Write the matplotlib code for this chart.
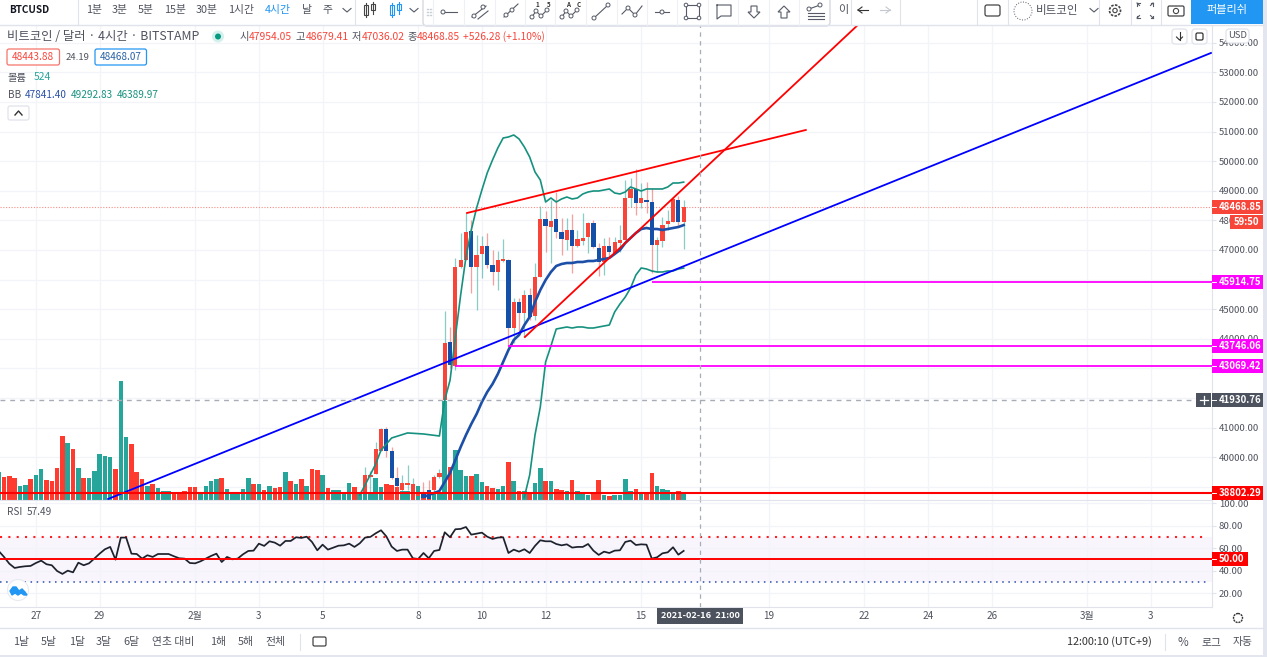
import matplotlib
matplotlib.use("Agg")
import matplotlib.pyplot as plt
from matplotlib.patches import Rectangle, Circle, FancyBboxPatch, Polygon

plt.rcParams['font.family'] = ['Noto Sans CJK KR', 'DejaVu Sans']

# ---------- data ----------
volume = [83,67,70,65,41,43,63,74,92,59,57,94,192,171,153,96,66,66,87,136,
          131,129,92,356,188,166,83,63,41,48,36,26,26,22,22,26,37,37,21,41,
          57,61,66,31,22,22,31,66,48,46,28,40,34,37,83,55,48,61,40,92,
          88,74,35,30,30,21,51,39,19,60,21,66,39,47,44,38,27,27,45,40,
          24,27,22,22,297,97,149,89,71,71,77,54,41,35,31,42,114,55,27,27,
          22,49,95,55,57,32,29,25,58,27,19,15,19,59,15,11,15,15,62,27,
          31,19,19,80,40,31,29,19,25,19]
volume_dir = (
    "g r r r g g r g g r "  "r r r g r g r g g g "  "g g r g g r r r g r "
    "g g g r r r r r g g "  "g g r g g g g g r g "  "r g r r g r g r g r "
    "r g r g g g g "
    "r g g g g g r r r g g r g r r g g "
    "g r g g g r g g r r g g r g r g r g g r g r r g r g g g "
    "r r g r g g g g r g r r g g g g r g"
).split()

bar0 = 69
candle_open = [38825,39332,39433,40210,40953,40210,39298,38893,39062,38825,38690,38760,38893,38893,39332,
               41933,43892,43082,46426,46662,47642,46426,46865,47135,46493,46257,46628,46662,44365,45243,
               44872,45480,44770,46088,48047,47777,48047,47608,47338,47676,47135,47304,47439,47912,47068,
               46595,47135,46899,47236,47338,48757,49061,48588,48689,48621,47169,47304,47878,47946,48689,47954.05]
candle_high = [39670,39535,40514,40990,41020,40345,39670,39400,39737,39300,39000,39163,39230,39400,39600,
               44939,44399,46730,47574,48250,48013,47507,47473,47574,46990,46966,47372,46700,45379,45379,
               45649,45716,46561,48486,48317,48700,48959,48081,48081,48216,47676,48250,47950,48013,47236,
               47405,47439,47439,47845,49365,49432,49736,49263,49297,49094,47439,48115,48351,48790,48824,48679.41]
candle_low  = [38791,38791,39433,40210,40007,39264,38656,38800,38893,38790,38620,38590,38590,38790,39300,
               41900,43000,42946,46400,46662,45547,44973,46054,46400,45818,45649,46600,43791,43858,44230,
               44061,44635,44635,46088,46932,46561,47405,46831,47000,46223,47101,47169,46899,47068,46122,
               46155,46730,46899,46932,47338,48453,48182,48419,48250,46223,46257,47101,47676,47946,47777,47036.02]
candle_close= [39400,39400,40278,40953,40210,39298,39028,39129,39129,39095,38760,38620,38600,39332,39467,
               43858,43115,46426,46662,47608,46426,46831,47135,46493,46257,46662,46696,44365,45243,44872,
               45480,44737,46088,48047,47811,47980,47608,47372,47676,47135,47372,47405,47912,47101,46595,
               47135,46932,47270,47338,48757,49061,48588,48757,48621,47169,47338,47845,47980,48723,47946,48468.85]

bb_upper_x = [68,69,71,72,74,77,80,83,84,85,86,87,88,89,90,91,92,93,94,95,96,97,98,99,100,101,102,103,104,105,
              106,107,108,109,110,111,112,113,114,115,116,117,118,119,120,121,122,123,124,125,126,127,128,129]
bb_upper = [38724,39062,39770,40240,40650,40820,40785,40717,41930,42600,44060,45480,46764,47676,48419,49027,49600,50040,50445,50783,
            50817,50885,50750,50480,50140,49635,49365,48621,48757,48621,48723,48790,48723,48757,48892,48959,48993,48993,49027,49061,
            48925,48892,48959,49128,49061,48993,49061,49061,49061,49061,49128,49263,49263,49292.83]
bb_lower_x = list(range(99, 130))
bb_lower = [38656,39400,40751,41697,43217,43757,44331,44365,44399,44365,44399,44399,44365,44365,44399,44433,44466,
            44906,45176,45412,45716,46155,46392,46358,46291,46257,46257,46291,46291,46358,46389.97]
bb_mid_x = list(range(80, 130))
bb_mid = [38656,38724,38791,38859,39163,39467,39906,40345,40751,41122,41460,41865,42203,42473,42811,43217,43622,43960,44129,44466,
          44737,45243,45649,45987,46257,46460,46527,46561,46561,46595,46595,46628,46628,46662,46696,46730,46865,47000,47236,47405,
          47574,47709,47743,47709,47709,47676,47709,47743,47777,47841.40]

rsi = [57.4,52.1,46.1,42.3,43.2,43.8,44.1,46.7,48.8,45.6,44.7,39.6,37,39.9,38.4,47,44.7,46.4,50.6,55,
       58.9,61,49.7,69.3,69.3,55,54.7,50.6,53.6,52.1,54.7,54.7,54.7,52.7,50.9,50.6,46.7,46.4,48.2,50.6,
       53,55,47.6,52.1,50,50.6,54.4,57.4,57.7,63.9,61.9,66,64.8,62.1,66.3,66.3,69.6,69,70.1,65.4,
       58,63,58.6,60.4,62.1,62.4,63.9,
       61,64.2,69.3,69.9,73.1,75.8,70.4,61.3,57.4,58.6,58.6,50.9,50.3,55.6,50.9,57.4,58.3,74,69.6,76.7,77,78.7,71.9,72.8,
       73.7,70.1,68.1,69.3,69.6,55.6,58.6,56.8,58.9,55.6,61.9,66.9,66,66,63.6,62.4,63.3,60.4,61,61,63.6,57.7,53.9,56.8,55.6,
       57.7,58,65.4,66.6,62.7,63.3,63,50.6,51.8,55.3,56.2,60.7,54.1,57.49]

trend_blue_x = [20.6, 228.3];  trend_blue_y = [38589, 53655]
trend_red_x = [99.1, 161.8];   trend_red_y = [44061, 54600]
wedge_red_x = [88.2, 152.0];   wedge_red_y = [48250, 51054]
levels_magenta = [45914.75, 43746.06, 43069.42]
levels_start = [123, 96, 86]
level_red = 38802.29
last_price = 48468.85
cross_price = 41930.76
cross_bar = 132

price_ticks = list(range(39000, 55000, 1000))
hidden_price_labels = [39000, 42000, 43000, 46000]   # covered by price tags in the reference
rsi_ticks = [20, 40, 60, 80, 100]
date_pos = [7, 19, 37, 49, 61, 79, 91, 103, 121, 145, 163, 175, 187, 205, 217]
date_labels = ['27', '29', '2월', '3', '5', '8', '10', '12', '15', '19', '22', '24', '26', '3월', '3']
periods = ['1분', '3분', '5분', '15분', '30분', '1시간', '4시간', '날', '주']
ranges = ['1날', '5날', '1달', '3달', '6달', '연초 대비', '1해', '5해', '전체']

# ---------- styles ----------
W, H = 1267, 657
RED = '#f7453a'; BLUE = '#1450a8'; VTEAL = '#26a69a'; VRED = '#ff3b30'
BBT = '#16917f'; GRID = '#f2f4fa'; TXT = '#50535e'; BORDER = '#e0e3eb'; CROSS = '#a8acb6'

def box(l, t, r, b):
    return [l / W, 1 - b / H, (r - l) / W, (b - t) / H]

fig = plt.figure(figsize=(W / 100, H / 100), dpi=100, facecolor='white')
XL = (0.245, 228.5)
YL = (38572, 54600)

ax_grid = fig.add_axes(box(0, 25, 1212, 499.5), zorder=0)
ax_vol = fig.add_axes(box(0, 25, 1212, 499.5), zorder=1)
ax = fig.add_axes(box(0, 25, 1212, 499.5), zorder=2)
ax_r = fig.add_axes(box(0, 500, 1212, 607), zorder=2)

# grid pane
ax_grid.set_xlim(*XL); ax_grid.set_ylim(*YL)
for t in date_pos:
    ax_grid.axvline(t, color=GRID, lw=0.9)
for p in price_ticks:
    ax_grid.axhline(p, color=GRID, lw=0.9)
ax_grid.set_xticks([]); ax_grid.set_yticks([])
for s in ax_grid.spines.values():
    s.set_visible(False)

# volume
ax_vol.patch.set_alpha(0)
ax_vol.set_xlim(*XL)
ax_vol.set_ylim(0, 474.5 * 3)
ax_vol.bar(range(len(volume)), volume, width=0.86,
           color=[VTEAL if d == 'g' else VRED for d in volume_dir], linewidth=0)
ax_vol.axis('off')

# price pane
ax.patch.set_alpha(0)
cx = [bar0 + k for k in range(len(candle_open))]
for x, o, h, l, c in zip(cx, candle_open, candle_high, candle_low, candle_close):
    up = c >= o
    ax.vlines(x, l, h, color=VTEAL if up else '#ef5350', alpha=0.55, lw=0.9, zorder=2)
    ax.bar(x, abs(c - o), bottom=min(o, c), width=0.8, color=RED if up else BLUE,
           linewidth=0, zorder=3)
ax.plot(bb_upper_x, bb_upper, color=BBT, lw=1.2, zorder=4)
ax.plot(bb_lower_x, bb_lower, color=BBT, lw=1.2, zorder=4)
ax.plot(bb_mid_x, bb_mid, color='#1c4fa8', lw=1.9, zorder=4)
ax.plot(trend_blue_x, trend_blue_y, color='#0000ff', lw=1.3, zorder=6)
ax.plot(trend_red_x, trend_red_y, color='#ff0000', lw=1.3, zorder=6)
ax.plot(wedge_red_x, wedge_red_y, color='#ff0000', lw=1.3, zorder=6)
for v, s in zip(levels_magenta, levels_start):
    ax.plot([s, XL[1]], [v, v], color='#ff00ff', lw=1.3, zorder=5, solid_capstyle='butt')
ax.axhline(level_red, color='#ff0000', lw=1.5, zorder=6)
ax.axhline(last_price, color='#f7453a', lw=0.8, ls=(0, (1, 1.5)), alpha=0.6, zorder=2)
ax.axhline(cross_price, color=CROSS, lw=1.0, ls=(0, (3.5, 3.5)), zorder=7)
ax.axvline(cross_bar, color=CROSS, lw=0.9, ls=(0, (3.5, 3.5)), zorder=7)
ax.set_xlim(*XL); ax.set_ylim(*YL)
ax.yaxis.tick_right()
ax.set_yticks(price_ticks)
ax.set_yticklabels(['' if p in hidden_price_labels else f'{p:.2f}' for p in price_ticks],
                   fontsize=6.9, color=TXT)
ax.tick_params(axis='y', length=3, color=BORDER, pad=2, width=0.8)
ax.set_xticks([])
for k, s in ax.spines.items():
    s.set_visible(k == 'right')
    s.set_color(BORDER)

# RSI pane
ax_r.set_ylim(7.6, 102.7)
ax_r.patch.set_alpha(0)
ax_r.axhspan(30, 70, color='#f8f5fd', lw=0, zorder=0)
for v in rsi_ticks:
    ax_r.axhline(v, color=GRID, lw=0.9, zorder=1)
for t in date_pos:
    ax_r.axvline(t, color=GRID, lw=0.9, zorder=1)
ax_r.plot(range(len(rsi)), rsi, color='#1e222d', lw=1.25, zorder=3)
ax_r.plot([XL[0], 227.5], [70, 70], color='#ff2020', lw=1.5, ls=(0, (1, 3)), zorder=2)
ax_r.plot([XL[0], 227.5], [30, 30], color='#2b4fa8', lw=1.1, ls=(0, (1, 3)), zorder=2)
ax_r.axhline(50, color='#ff0000', lw=1.4, zorder=4)
ax_r.axvline(cross_bar, color=CROSS, lw=0.9, ls=(0, (3.5, 3.5)), zorder=7)
ax_r.yaxis.tick_right()
ax_r.set_yticks(rsi_ticks)
ax_r.set_yticklabels([f'{v:.2f}' for v in rsi_ticks], fontsize=6.9, color=TXT)
ax_r.tick_params(axis='y', length=3, color=BORDER, pad=2, width=0.8)
ax_r.set_xticks(date_pos)
ax_r.set_xticklabels(date_labels, fontsize=7.2, color=TXT)
ax_r.tick_params(axis='x', length=0, pad=3)
ax_r.set_xlim(*XL)
for k, s in ax_r.spines.items():
    s.set_visible(k in ('right', 'bottom', 'top'))
    s.set_color(BORDER)

# ---------- UI overlay, pixel coordinates ----------
ui = fig.add_axes([0, 0, 1, 1], zorder=10)
ui.set_xlim(0, W); ui.set_ylim(H, 0); ui.axis('off'); ui.patch.set_alpha(0)

def T(x, y, s, size=7.6, color=TXT, ha='left', weight='normal', **kw):
    ui.text(x, y, s, fontsize=size, color=color, ha=ha, va='center', fontweight=weight, **kw)

def R(x0, y0, x1, y1, fc='white', ec='none', lw=0.8, z=1):
    ui.add_patch(Rectangle((x0, y0), x1 - x0, y1 - y0, facecolor=fc, edgecolor=ec, lw=lw, zorder=z))

def RR(x0, y0, x1, y1, fc='white', ec=BORDER, lw=0.9, z=2, r=2):
    ui.add_patch(FancyBboxPatch((x0, y0), x1 - x0, y1 - y0, boxstyle=f'round,pad=0,rounding_size={r}',
                                facecolor=fc, edgecolor=ec, lw=lw, zorder=z))

def L(xs, ys, color='#555a66', lw=0.8, z=4, **kw):
    ui.plot(xs, ys, color=color, lw=lw, zorder=z, **kw)

def N(x, y, r=2.0, color='#555a66'):
    ui.add_patch(Circle((x, y), r, facecolor='white', edgecolor=color, lw=0.7, zorder=5))

# top toolbar and page edges
R(0, 0, W, 24.5, fc='white')
L([0, 1263], [24.5, 24.5], color=BORDER, lw=1)
R(1263, 0, W, H, fc='#e3e6ee', z=1)
R(0, 655, W, H, fc='#e3e6ee', z=1)
L([0, 1263], [627.5, 627.5], color=BORDER, lw=1)
for sx in (78, 355, 851, 900, 977, 1008, 1099, 1131, 1161):
    L([sx, sx], [0, 24], color=BORDER, lw=0.8)

T(9, 10, 'BTCUSD', size=7.2, color='#131722', weight='bold')
for px, s in zip((86, 112, 138, 164, 196, 228, 265, 302, 322), periods):
    T(px, 10.5, s, size=7.8, color='#2196f3' if s == '4시간' else TXT)
L([343, 347, 351], [8.5, 12, 8.5], lw=0.8)
L([410, 414, 418], [8.5, 12, 8.5], lw=0.8)
for px, col in ((367, '#444'), (393, '#2196f3')):
    R(px - 3, 5, px + 1, 15, fc='white', ec=col, z=4)
    R(px + 4, 4, px + 8, 10, fc='white', ec=col, z=4)
    L([px - 1, px - 1], [3, 17], color=col)
    L([px + 6, px + 6], [2, 14], color=col)

# drawing toolbar
RR(423, -4, 830, 26, ec='#d6d9e2', lw=1, z=3, r=4)
for gx in (427, 430):
    for gy in (9, 12, 15):
        L([gx, gx + 1], [gy, gy], color='#c9cdd6', lw=1)
for sx in (433, 464, 495, 525, 555, 586, 617, 647, 677, 708, 738, 769, 799):
    L([sx, sx], [0, 25], color='#eef0f5', lw=0.8)
L([443, 457], [12, 12]); N(443, 12)
L([472, 486], [17, 6]); N(474, 16); N(483, 7); L([478, 488], [19, 11])
L([504, 518], [17, 4]); N(506, 15); N(512, 10)
L([532, 536, 541, 547], [17, 11, 16, 10]); N(532, 17); N(536, 11); N(541, 16); N(547, 10)
T(537, 4.5, '1', size=4.5, color='#333', ha='center', weight='bold'); T(549, 4.5, '5', size=4.5, color='#333', ha='center', weight='bold')
L([562, 566, 571, 577], [17, 11, 16, 10]); N(562, 17); N(566, 11); N(571, 16); N(577, 10)
T(568, 4.5, 'A', size=4.5, color='#333', ha='center', weight='bold'); T(579, 4.5, 'C', size=4.5, color='#333', ha='center', weight='bold')
L([594, 608], [18, 5]); N(594, 18); N(608, 5)
L([622, 628, 635, 642], [14, 8, 15, 6]); N(628, 8); N(635, 15)
L([655, 669], [12, 12]); N(662, 12)
R(686, 5, 699, 18, fc='none', ec='#555a66', z=4)
for nx, ny in ((686, 5), (699, 5), (686, 18), (699, 18)):
    N(nx, ny, r=1.8)
L([717, 731, 731, 721, 717, 717], [5, 5, 16, 16, 19, 5])
ui.add_patch(Polygon([(754, 18), (748, 12), (751, 12), (751, 6), (757, 6), (757, 12), (760, 12)], closed=True, fc='white', ec='#555a66', lw=0.8, zorder=4))
ui.add_patch(Polygon([(784, 6), (778, 12), (781, 12), (781, 18), (787, 18), (787, 12), (790, 12)], closed=True, fc='white', ec='#555a66', lw=0.8, zorder=4))
L([809, 820], [9, 5]); N(809, 9); N(820, 5)
for yy in (13, 16, 19):
    L([808, 824], [yy, yy])
T(838, 10, '이', size=8)
L([858, 868], [10, 10], color='#333'); L([858, 862], [10, 7], color='#333'); L([858, 862], [10, 13], color='#333')
L([880, 890], [10, 10], color='#c4c8d0'); L([890, 886], [10, 7], color='#c4c8d0'); L([890, 886], [10, 13], color='#c4c8d0')

# top right controls
RR(985, 5, 1000, 16, fc='white', ec='#444', lw=0.9, z=4, r=2)
ui.add_patch(Circle((1023, 11), 9, fc='none', ec='#555a66', ls=':', lw=0.7, zorder=4))
T(1036, 10.5, '비트코인', size=8.3)
L([1090, 1094, 1098], [8.5, 12, 8.5])
ui.add_patch(Circle((1115, 10.5), 5.5, fc='none', ec='#444', lw=1.2, ls=(0, (1.5, 0.8)), zorder=4))
ui.add_patch(Circle((1115, 10.5), 2.2, fc='none', ec='#444', lw=0.8, zorder=4))
for dx, dy in ((-1, -1), (1, -1), (-1, 1), (1, 1)):
    cxp, cyp = 1145 + dx * 5.5, 10.5 + dy * 5
    L([cxp, cxp + dx * 2.5], [cyp, cyp + dy * 2.5]); L([cxp + dx * 2.5, cxp], [cyp + dy * 2.5, cyp + dy * 2.5]); L([cxp + dx * 2.5, cxp + dx * 2.5], [cyp, cyp + dy * 2.5])
RR(1168, 6, 1184, 16, fc='white', ec='#444', z=4, r=1.5)
ui.add_patch(Circle((1176, 11), 2.6, fc='none', ec='#444', lw=0.8, zorder=5))
R(1191, 0, 1263, 24, fc='#2196f3', z=2)
T(1227, 10.5, '퍼블리쉬', size=8, color='white', ha='center', zorder=5)

# legend
T(7, 36.5, '비트코인 / 달러 · 4시간 · BITSTAMP', size=8.9)
ui.add_patch(Circle((218, 36.5), 6, fc='#d3f0ec', ec='none', zorder=3))
ui.add_patch(Circle((218, 36.5), 3, fc='#089981', ec='none', zorder=4))
for px, lab, val in ((239, '시', '47954.05'), (296, '고', '48679.41'), (352, '저', '47036.02'), (407, '종', '48468.85')):
    T(px, 37, lab, size=7.4)
    T(px + 10, 37, val, size=7.4, color='#f7453a')
T(463, 37, '+526.28 (+1.10%)', size=7.4, color='#f7453a')
RR(7, 49, 59.5, 65, fc='white', ec='#f7736a')
T(33, 57, '48443.88', size=7.2, color='#f7453a', ha='center', zorder=5)
T(66, 57, '24.19', size=6.8)
RR(95, 49, 146.5, 65, fc='white', ec='#2196f3')
T(120.5, 57, '48468.07', size=7.2, color='#2962a8', ha='center', zorder=5)
T(8, 77.5, '볼륨', size=7.4)
T(34, 77.5, '524', size=7.4, color='#26a69a')
T(8, 95, 'BB', size=7.2)
T(25, 95, '47841.40', size=7.2, color='#2b50a8')
T(71, 95, '49292.83', size=7.2, color='#16917f')
T(117, 95, '46389.97', size=7.2, color='#16917f')
RR(8, 106, 29, 120, fc='white', ec=BORDER)
L([15, 18.5, 22], [115, 111, 115], color='#333', lw=1, z=5)
RR(1172, 29, 1187, 44, fc='white', ec=BORDER, r=3)
L([1179.5, 1179.5], [32, 40], color='#333'); L([1176.5, 1179.5, 1182.5], [37, 40, 37], color='#333')
RR(1192, 29, 1207, 44, fc='white', ec=BORDER, r=3)
RR(1196, 33, 1203, 40, fc='white', ec='#333', r=1.5, z=4)
RR(1226, 29, 1249, 43, fc='white', ec=BORDER, r=3, z=6)
T(1237.5, 36, 'USD', size=6.8, ha='center', zorder=7)
T(7, 512, 'RSI', size=7.2)
T(27, 512, '57.49', size=7.2)

# logo
ui.add_patch(Circle((18, 590), 10.5, fc='white', ec='#e8eaf0', lw=0.8, zorder=3))
ui.fill([10, 13, 16, 19, 22, 25, 27, 24, 21, 18, 15, 12], [591, 587, 587, 591, 589, 592, 595, 595, 593, 595, 593, 595],
        color='#2196f3', zorder=4)

# price tags, from the values through the price scale
def to_ui(axes, v):
    return ui.transData.inverted().transform(axes.transData.transform((XL[0], v)))[1]

def tag(axes, v, text, fc, right=1263, h=7, color='white'):
    y = to_ui(axes, v)
    R(1212, y - h, right, y + h, fc=fc, z=6)
    L([1212, 1216], [y, y], color='white', lw=0.7, z=7)
    T(1218.5, y, text, size=6.9, color=color, weight='bold', zorder=7)

tag(ax, last_price, f'{last_price:.2f}', '#f7453a')
y_last = to_ui(ax, last_price)
R(1230, y_last + 8, 1263, y_last + 22, fc='#f7453a', z=6)
T(1246.5, y_last + 15, '59:50', size=6.9, color='white', ha='center', weight='bold', zorder=7)
for v in levels_magenta:
    tag(ax, v, f'{v:.2f}', '#ff00ff')
tag(ax, cross_price, f'{cross_price:.2f}', '#4c525e')
y_c = to_ui(ax, cross_price)
R(1196, y_c - 7, 1211, y_c + 7, fc='#4c525e', z=6)
L([1199.5, 1207.5], [y_c, y_c], color='white', lw=0.9, z=7); L([1203.5, 1203.5], [y_c - 4, y_c + 4], color='white', lw=0.9, z=7)
tag(ax, level_red, f'{level_red:.2f}', '#ff0000')
tag(ax_r, 50, '50.00', '#ff0000', right=1248)

# crosshair time label and bottom bar
R(657, 608, 743, 624, fc='#4c525e', z=6)
T(700, 616, '2021-02-16  21:00', size=6.6, color='white', ha='center', weight='bold', zorder=7)
for px, s in zip((13, 41, 69, 96, 123, 152, 210, 238, 265), ranges):
    T(px, 642, s, size=7.8)
L([300, 300], [634, 650], color=BORDER)
RR(313, 637, 326, 646, fc='white', ec='#444', r=1.5)
T(1067, 642, '12:00:10 (UTC+9)', size=7.8, color='#333')
L([1165, 1165], [634, 650], color=BORDER)
T(1183, 642, '%', size=8.4, ha='center')
T(1211, 642, '로그', size=7.8, ha='center')
T(1243, 642, '자동', size=7.8, ha='center')
ui.add_patch(Circle((1238, 618), 4.5, fc='white', ec='#333', lw=1, ls=(0, (1.5, 0.6)), zorder=5))

fig.savefig('out.png', dpi=100, facecolor='white')
